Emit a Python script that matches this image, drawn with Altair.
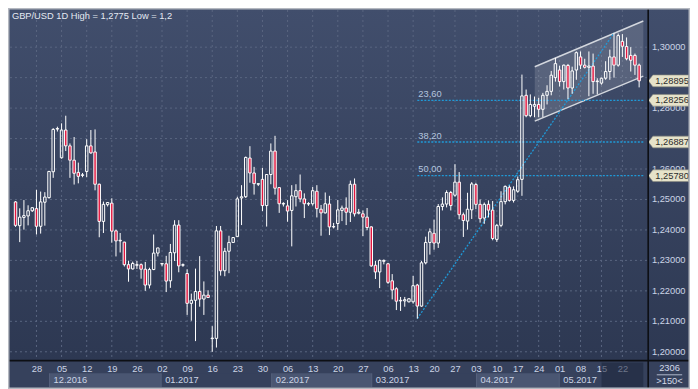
import altair as alt
import pandas as pd

# ---------------- data ----------------
opens = [1.2492, 1.2414, 1.2441, 1.2446, 1.2463, 1.2470, 1.2412, 1.2491, 1.2506, 1.2591,
         1.2731, 1.2637, 1.2728, 1.2676, 1.2629, 1.2589, 1.2579, 1.2592, 1.2676, 1.2656,
         1.2550, 1.2428, 1.2483, 1.2488, 1.2397, 1.2364, 1.2360, 1.2286, 1.2272, 1.2284,
         1.2286, 1.2271, 1.2219, 1.2270, 1.2324, 1.2288, 1.2289, 1.2233, 1.2325, 1.2416,
         1.2284, 1.2257, 1.2159, 1.2169, 1.2198, 1.2173, 1.2186, 1.2043, 1.2044, 1.2397,
         1.2266, 1.2330, 1.2359, 1.2378, 1.2505, 1.2509, 1.2636, 1.2587, 1.2550, 1.2566,
         1.2480, 1.2582, 1.2659, 1.2539, 1.2485, 1.2479, 1.2464, 1.2509, 1.2529, 1.2502,
         1.2485, 1.2486, 1.2527, 1.2468, 1.2456, 1.2485, 1.2410, 1.2421, 1.2464, 1.2472,
         1.2458, 1.2550, 1.2455, 1.2453, 1.2442, 1.2410, 1.2284, 1.2262, 1.2297, 1.2289,
         1.2233, 1.2207, 1.2169, 1.2167, 1.2164, 1.2164, 1.2219, 1.2150, 1.2292, 1.2359,
         1.2389, 1.2357, 1.2477, 1.2485, 1.2523, 1.2514, 1.2557, 1.2450, 1.2429, 1.2466,
         1.2549, 1.2484, 1.2439, 1.2484, 1.2465, 1.2369, 1.2415, 1.2493, 1.2540, 1.2497,
         1.2527, 1.2566, 1.2842, 1.2775, 1.2806, 1.2812, 1.2796, 1.2842, 1.2855, 1.2900,
         1.2925, 1.2887, 1.2940, 1.2866, 1.2925, 1.2968, 1.2941, 1.2934, 1.2938, 1.2887,
         1.2882, 1.2898, 1.2920, 1.2968, 1.2941, 1.3019, 1.3002, 1.2973, 1.2973, 1.2941]
highs = [1.2495, 1.2471, 1.2498, 1.2481, 1.2474, 1.2532, 1.2526, 1.2524, 1.2594, 1.2734,
         1.2739, 1.2750, 1.2775, 1.2684, 1.2705, 1.2621, 1.2587, 1.2698, 1.2728, 1.2730,
         1.2552, 1.2493, 1.2491, 1.2504, 1.2401, 1.2390, 1.2361, 1.2299, 1.2296, 1.2298,
         1.2290, 1.2295, 1.2276, 1.2385, 1.2341, 1.2290, 1.2315, 1.2354, 1.2432, 1.2432,
         1.2290, 1.2271, 1.2191, 1.2273, 1.2314, 1.2231, 1.2202, 1.2084, 1.2413, 1.2413,
         1.2341, 1.2381, 1.2376, 1.2509, 1.2547, 1.2641, 1.2675, 1.2607, 1.2553, 1.2604,
         1.2582, 1.2684, 1.2709, 1.2540, 1.2491, 1.2498, 1.2547, 1.2550, 1.2582, 1.2520,
         1.2491, 1.2541, 1.2547, 1.2482, 1.2523, 1.2512, 1.2423, 1.2498, 1.2480, 1.2507,
         1.2562, 1.2569, 1.2469, 1.2464, 1.2472, 1.2412, 1.2298, 1.2303, 1.2303, 1.2292,
         1.2255, 1.2212, 1.2180, 1.2180, 1.2176, 1.2249, 1.2223, 1.2298, 1.2378, 1.2405,
         1.2434, 1.2485, 1.2507, 1.2530, 1.2528, 1.2616, 1.2590, 1.2457, 1.2522, 1.2557,
         1.2555, 1.2500, 1.2490, 1.2497, 1.2495, 1.2420, 1.2527, 1.2546, 1.2546, 1.2543,
         1.2575, 1.2910, 1.2861, 1.2845, 1.2838, 1.2834, 1.2850, 1.2875, 1.2922, 1.2965,
         1.2939, 1.2943, 1.2945, 1.2936, 1.2986, 1.2986, 1.2962, 1.2986, 1.2979, 1.2898,
         1.2900, 1.2954, 1.2992, 1.3047, 1.3045, 1.3043, 1.3032, 1.3000, 1.2979, 1.2946]
lows = [1.2410, 1.2360, 1.2401, 1.2415, 1.2459, 1.2385, 1.2388, 1.2414, 1.2503, 1.2571,
        1.2723, 1.2634, 1.2659, 1.2571, 1.2549, 1.2553, 1.2573, 1.2573, 1.2650, 1.2530,
        1.2376, 1.2390, 1.2477, 1.2358, 1.2313, 1.2326, 1.2280, 1.2230, 1.2270, 1.2272,
        1.2240, 1.2200, 1.2208, 1.2268, 1.2313, 1.2281, 1.2196, 1.2210, 1.2298, 1.2261,
        1.2279, 1.2121, 1.2102, 1.2035, 1.2148, 1.2121, 1.2177, 1.2000, 1.2014, 1.2250,
        1.2248, 1.2258, 1.2358, 1.2377, 1.2416, 1.2505, 1.2555, 1.2516, 1.2544, 1.2462,
        1.2411, 1.2550, 1.2516, 1.2456, 1.2477, 1.2427, 1.2346, 1.2477, 1.2491, 1.2439,
        1.2479, 1.2480, 1.2441, 1.2381, 1.2454, 1.2383, 1.2405, 1.2400, 1.2429, 1.2416,
        1.2426, 1.2444, 1.2451, 1.2380, 1.2399, 1.2279, 1.2239, 1.2209, 1.2287, 1.2223,
        1.2172, 1.2137, 1.2134, 1.2148, 1.2162, 1.2158, 1.2109, 1.2148, 1.2287, 1.2319,
        1.2335, 1.2341, 1.2464, 1.2474, 1.2464, 1.2509, 1.2435, 1.2377, 1.2401, 1.2436,
        1.2468, 1.2424, 1.2420, 1.2441, 1.2366, 1.2361, 1.2409, 1.2484, 1.2493, 1.2490,
        1.2522, 1.2512, 1.2770, 1.2770, 1.2770, 1.2770, 1.2770, 1.2812, 1.2842, 1.2887,
        1.2871, 1.2861, 1.2829, 1.2847, 1.2893, 1.2928, 1.2930, 1.2839, 1.2847, 1.2845,
        1.2877, 1.2893, 1.2893, 1.2900, 1.2936, 1.2968, 1.2957, 1.2920, 1.2909, 1.2868]
closes = [1.2415, 1.2442, 1.2447, 1.2463, 1.2473, 1.2412, 1.2492, 1.2508, 1.2592, 1.2730,
          1.2733, 1.2728, 1.2676, 1.2629, 1.2586, 1.2576, 1.2581, 1.2676, 1.2653, 1.2550,
          1.2428, 1.2484, 1.2490, 1.2396, 1.2364, 1.2366, 1.2286, 1.2272, 1.2290, 1.2286,
          1.2271, 1.2219, 1.2270, 1.2324, 1.2341, 1.2290, 1.2232, 1.2326, 1.2416, 1.2282,
          1.2286, 1.2159, 1.2169, 1.2198, 1.2173, 1.2186, 1.2178, 1.2045, 1.2397, 1.2266,
          1.2330, 1.2359, 1.2375, 1.2502, 1.2509, 1.2638, 1.2587, 1.2552, 1.2552, 1.2480,
          1.2582, 1.2659, 1.2537, 1.2486, 1.2487, 1.2462, 1.2512, 1.2529, 1.2502, 1.2486,
          1.2487, 1.2529, 1.2470, 1.2456, 1.2486, 1.2410, 1.2411, 1.2466, 1.2472, 1.2458,
          1.2550, 1.2453, 1.2458, 1.2442, 1.2408, 1.2282, 1.2262, 1.2300, 1.2300, 1.2228,
          1.2203, 1.2166, 1.2167, 1.2171, 1.2174, 1.2217, 1.2150, 1.2292, 1.2359, 1.2394,
          1.2357, 1.2477, 1.2485, 1.2523, 1.2480, 1.2557, 1.2450, 1.2431, 1.2468, 1.2551,
          1.2484, 1.2437, 1.2484, 1.2465, 1.2372, 1.2415, 1.2493, 1.2543, 1.2497, 1.2532,
          1.2565, 1.2840, 1.2775, 1.2812, 1.2812, 1.2796, 1.2842, 1.2855, 1.2908, 1.2946,
          1.2887, 1.2941, 1.2866, 1.2922, 1.2982, 1.2941, 1.2934, 1.2938, 1.2887, 1.2889,
          1.2898, 1.2920, 1.2968, 1.2941, 1.3038, 1.3003, 1.2962, 1.2957, 1.2941, 1.28895]

day_labels = ["28", "05", "12", "19", "26", "02", "09", "16", "23", "30", "06", "13", "20",
              "27", "06", "13", "20", "27", "03", "10", "17", "24", "01", "08", "15", "22"]
day_index = [5, 11, 17, 23, 29, 35, 41, 47, 53, 59, 65, 71, 77, 83, 89, 95, 100, 105,
             110, 115, 120, 125, 130, 135, 140, 145]
month_labels = ["12.2016", "01.2017", "02.2017", "03.2017", "04.2017", "05.2017"]
month_start = [8.13, 34.79, 61.21, 85.11, 110.15, 129.92]
month_end = [34.79, 61.21, 85.11, 110.15, 129.92, 140.03]

grid_prices = [1.20, 1.21, 1.22, 1.23, 1.24, 1.25, 1.26, 1.27, 1.28, 1.29, 1.30]
label_prices = [1.20, 1.21, 1.22, 1.23, 1.24, 1.25, 1.26, 1.28, 1.30]
fib_names = ["23,60", "38,20", "50,00"]
fib_levels = [1.28256, 1.26887, 1.25780]
fib_anchor_index = [96, 143]
fib_anchor_price = [1.21092, 1.30469]
channel_index = [124.06, 150.0]
channel_top = [1.29357, 1.30859]
channel_bottom = [1.27572, 1.29051]
tag_values = [1.28895, 1.28256, 1.26887, 1.25780]
title_text = "GBP/USD 1D High = 1,2775 Low = 1,2"
corner_texts = ["2306", ">150<"]

# ---------------- layout (reference pixels -> chart pixels) ----------------
W, H = 682, 381
KX, KY = W / 698.0, H / 389.0


def PX(v):
    return v * KX


def PY(v):
    return v * KY


FONT = "Liberation Sans"
FS = 9.3
RED = "#e2163f"
GRID = "#5a6681"
AXIS_TXT = "#cbd4e6"
FIB = "#1f9ad8"
N = len(opens)

XS = alt.Scale(domain=[0, N - 1], range=[PX(2.6), PX(651.05)], nice=False, zero=False)
YS = alt.Scale(domain=[1.2, 1.3], range=[PY(351), PY(40)], nice=False, zero=False)

cd = pd.DataFrame({"i": list(range(N)), "o": opens, "h": highs, "l": lows, "c": closes})
cd["top"] = cd[["o", "c"]].max(axis=1)
cd["bot"] = cd[["o", "c"]].min(axis=1)

one = pd.DataFrame({"k": [0]})


def prect(x, x2, y, y2, **kw):
    return alt.Chart(one).mark_rect(**kw).encode(
        x=alt.value(PX(x)), x2=alt.value(PX(x2)), y=alt.value(PY(y)), y2=alt.value(PY(y2)))


def prule(x, x2, y, y2, **kw):
    return alt.Chart(one).mark_rule(**kw).encode(
        x=alt.value(PX(x)), x2=alt.value(PX(x2)), y=alt.value(PY(y)), y2=alt.value(PY(y2)))


def ptext(x, y, txt, **kw):
    return alt.Chart(pd.DataFrame({"t": [txt]})).mark_text(font=FONT, fontSize=FS, **kw).encode(
        x=alt.value(PX(x)), y=alt.value(PY(y)), text="t:N")


layers = []

# backgrounds
layers.append(prect(0, 698, 0, 360, fill=alt.Gradient(
    gradient="linear", x1=0, x2=0, y1=0, y2=1,
    stops=[alt.GradientStop(offset=0, color="#414e6c"),
           alt.GradientStop(offset=1, color="#2d3852")])))
layers.append(prect(0, 698, 360, 389, fill="#36415c"))

# month boxes
md = pd.DataFrame({"s": month_start, "e": month_end, "m": month_labels,
                   "shade": [i % 2 == 0 for i in range(len(month_labels))]})
layers.append(alt.Chart(md).mark_rect().encode(
    x=alt.X("s:Q", scale=XS, axis=None), x2="e:Q",
    y=alt.value(PY(373)), y2=alt.value(PY(387)),
    fill=alt.condition("datum.shade", alt.value("#4a5672"), alt.value("#36415c"))))
layers.append(alt.Chart(md).mark_rule(color="#56627d", strokeWidth=1).encode(
    x=alt.X("s:Q", scale=XS, axis=None), y=alt.value(PY(373)), y2=alt.value(PY(387))))

# grid
gd_h = pd.DataFrame({"p": grid_prices})
layers.append(alt.Chart(gd_h).mark_rule(color=GRID, strokeDash=[2, 3], strokeWidth=1).encode(
    y=alt.Y("p:Q", scale=YS, axis=None), x=alt.value(PX(2)), x2=alt.value(PX(655))))
gd_v = pd.DataFrame({"i": day_index})
layers.append(alt.Chart(gd_v).mark_rule(color=GRID, strokeDash=[2, 3], strokeWidth=1).encode(
    x=alt.X("i:Q", scale=XS, axis=None), y=alt.value(PY(2)), y2=alt.value(PY(360))))

# channel
ch = pd.DataFrame({"i": channel_index, "t": channel_top, "b": channel_bottom})
layers.append(alt.Chart(ch).mark_area(color="white", opacity=0.14).encode(
    x=alt.X("i:Q", scale=XS, axis=None), y=alt.Y("t:Q", scale=YS, axis=None), y2="b:Q"))
layers.append(alt.Chart(ch).mark_line(color="#d3d7de", strokeWidth=1.4).encode(
    x=alt.X("i:Q", scale=XS, axis=None), y=alt.Y("t:Q", scale=YS, axis=None)))
layers.append(alt.Chart(ch).mark_line(color="#d3d7de", strokeWidth=1.4).encode(
    x=alt.X("i:Q", scale=XS, axis=None), y=alt.Y("b:Q", scale=YS, axis=None)))

# fibonacci
fd = pd.DataFrame({"n": fib_names, "v": fib_levels, "s": [fib_anchor_index[0]] * 3,
                   "e": [N] * 3})
layers.append(alt.Chart(fd).mark_rule(color=FIB, strokeDash=[2, 1.5], strokeWidth=1.3).encode(
    x=alt.X("s:Q", scale=XS, axis=None), x2="e:Q", y=alt.Y("v:Q", scale=YS, axis=None)))
layers.append(alt.Chart(fd).mark_text(font=FONT, fontSize=FS, align="left",
                                      baseline="alphabetic", dx=1, dy=-3.5,
                                      color="#b3c5df").encode(
    x=alt.X("s:Q", scale=XS, axis=None), y=alt.Y("v:Q", scale=YS, axis=None), text="n:N"))
diag = pd.DataFrame({"i": fib_anchor_index, "p": fib_anchor_price})
layers.append(alt.Chart(diag).mark_line(color=FIB, strokeDash=[2, 1.5], strokeWidth=1.3).encode(
    x=alt.X("i:Q", scale=XS, axis=None), y=alt.Y("p:Q", scale=YS, axis=None)))

# candles
base = alt.Chart(cd)
layers.append(base.mark_rule(color="white", strokeWidth=1).encode(
    x=alt.X("i:Q", scale=XS, axis=None), y=alt.Y("h:Q", scale=YS, axis=None), y2="top:Q"))
layers.append(base.mark_rule(color="white", strokeWidth=1).encode(
    x=alt.X("i:Q", scale=XS, axis=None), y=alt.Y("bot:Q", scale=YS, axis=None), y2="l:Q"))
layers.append(base.mark_bar(size=2.45, stroke="white", strokeWidth=1).encode(
    x=alt.X("i:Q", scale=XS, axis=None), y=alt.Y("o:Q", scale=YS, axis=None), y2="c:Q",
    fill=alt.condition("datum.c >= datum.o", alt.value("transparent"), alt.value(RED))))

# right price axis
pt = pd.DataFrame({"p": label_prices,
                   "lab": [f"{v:.5f}".replace(".", ",") for v in label_prices]})
layers.append(alt.Chart(pt).mark_text(font=FONT, fontSize=FS, align="left",
                                      color=AXIS_TXT).encode(
    x=alt.value(PX(659)), y=alt.Y("p:Q", scale=YS, axis=None), text="lab:N"))

# price tags
TAG = "M -1 0 L -0.78 -0.293 L 1 -0.293 L 1 0.293 L -0.78 0.293 Z"
tg = pd.DataFrame({"p": tag_values,
                   "lab": [f"{v:.5f}".replace(".", ",") for v in tag_values]})
layers.append(alt.Chart(tg).mark_point(shape=TAG, size=(41 * KX) ** 2, filled=True, opacity=1,
                                       fill="#e6e3ca", stroke="#8c8c80", strokeWidth=0.6).encode(
    x=alt.value(PX(676)), y=alt.Y("p:Q", scale=YS, axis=None)))
layers.append(alt.Chart(tg).mark_text(font=FONT, fontSize=FS, align="left",
                                      color="#2c2c2c").encode(
    x=alt.value(PX(662.5)), y=alt.Y("p:Q", scale=YS, axis=None), text="lab:N"))

# bottom date axis
dl = pd.DataFrame({"i": day_index, "t": day_labels})
layers.append(alt.Chart(dl).mark_text(font=FONT, fontSize=FS, color=AXIS_TXT, dx=0.5).encode(
    x=alt.X("i:Q", scale=XS, axis=None), y=alt.value(PY(368.5)), text="t:N"))
layers.append(alt.Chart(md).mark_text(font=FONT, fontSize=FS, color=AXIS_TXT,
                                      align="left", dx=4).encode(
    x=alt.X("s:Q", scale=XS, axis=None), y=alt.value(PY(379.5)), text="m:N"))
dk = pd.DataFrame({"s": [month_end[-1]], "e": [N]})
layers.append(alt.Chart(dk).mark_rect(fill="#1c243a", opacity=0.55).encode(
    x=alt.X("s:Q", scale=XS, axis=None), x2="e:Q", y=alt.value(PY(362)), y2=alt.value(PY(387))))

# separators and frame
layers.append(prule(0, 698, 360, 360, color="#0d0f14", strokeWidth=1.6))
layers.append(prule(655.2, 655.2, 0, 389, color="#0d0f14", strokeWidth=1.6))
layers.append(prect(0.75, 697.25, 0.75, 388.25, fill="transparent", stroke="#b4b8c0",
                    strokeWidth=1.5))

# corner texts
layers.append(ptext(677, 368, corner_texts[0], color="#d2d9e8"))
layers.append(prule(664, 690, 374.5, 374.5, color="#aeb7ca", strokeWidth=1))
layers.append(ptext(677, 380.5, corner_texts[1], color="#d2d9e8"))

# title
layers.append(ptext(4, 8, title_text, color="#e4e9f2", align="left"))

chart = alt.layer(*layers).properties(
    width=W, height=H,
    autosize=alt.AutoSizeParams(type="none"),
    padding=0,
    background="#36415c",
).configure_view(strokeWidth=0)

chart.save("out.html", embed_options={"renderer": "svg", "actions": False})
